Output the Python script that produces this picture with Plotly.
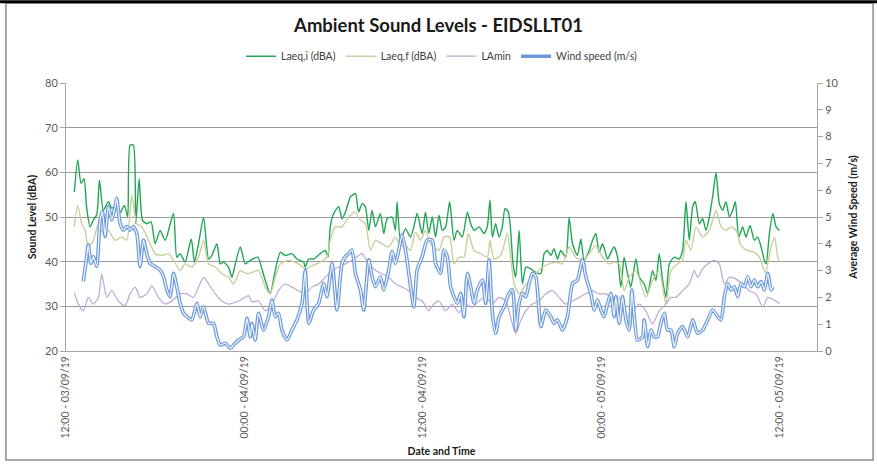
import pandas as pd
import plotly.graph_objects as go

# Hours after 12:00 03/09/19 and values
laeq_i_hours = [0.56,0.79,1.01,1.21,1.39,1.62,1.84,2.07,2.25,2.51,2.85,3.08,3.30,3.64,3.93,4.15,4.31,4.53,4.69,4.92,5.14,5.43,5.72,5.99,6.33,6.67,7.23,7.45,7.68,8.01,8.42,8.64,8.91,9.25,9.59,9.81,10.15,10.37,10.60,10.93,11.16,11.38,11.72,12.06,12.39,
                12.90,13.17,13.40,13.73,14.07,14.41,14.74,15.19,15.53,15.98,16.09,16.32,16.65,17.10,17.44,17.62,17.77,18.00,18.34,18.56,18.79,19.12,19.28,19.46,19.68,19.91,20.13,20.36,20.58,20.81,21.14,21.37,21.59,21.93,22.15,22.26,22.49,22.83,23.16,23.39,23.61,23.95,24.17,24.40,
                24.63,24.85,25.08,25.30,25.53,25.80,26.09,26.31,26.65,26.99,27.21,27.44,27.77,28.11,28.33,28.51,28.67,28.89,29.12,29.34,29.52,29.75,29.90,30.06,30.24,30.47,30.69,30.92,31.25,31.59,31.93,32.15,32.37,32.60,32.82,33.05,33.27,33.61,33.83,34.06,34.39,34.62,34.84,35.18,35.41,35.63,35.85,36.08,36.42,36.64,36.86,
                37.09,37.31,37.53,37.76,37.98,38.32,38.55,38.88,39.11,39.44,39.67,39.89,40.12,40.34,40.57,40.90,41.24,41.46,41.69,41.91,42.14,42.32,42.59,42.81,43.04,43.26,43.48,43.71,43.93,44.16,44.38,44.61,44.83,45.01,45.24,45.50,45.73,46.00,46.29,46.51,46.74,46.96,47.08,47.30,47.53,47.75,47.97]
laeq_i = [55.6,62.8,57.5,58.6,52.0,47.8,49.3,50.5,58.3,51.5,53.4,52.0,52.3,51.0,52.6,50.0,66.1,66.1,48.5,58.6,49.3,48.5,48.9,44.0,47.0,44.8,50.8,41.0,41.8,39.9,45.1,39.9,44.0,49.9,40.6,41.4,44.0,39.5,39.9,38.8,36.5,39.5,43.3,39.5,40.3,
          41.0,38.4,35.8,32.8,38.0,42.1,41.4,41.8,40.6,39.9,38.8,40.6,40.6,41.8,42.5,41.0,47.8,50.8,52.3,49.6,51.1,54.5,54.9,55.3,51.1,53.0,52.3,47.0,51.5,47.8,50.8,46.3,49.6,50.0,47.0,53.4,44.8,47.4,45.5,47.8,50.8,46.3,51.1,46.3,
          50.0,45.5,50.4,47.0,47.8,53.4,44.8,47.0,45.5,51.1,48.5,47.0,47.8,46.3,47.8,53.8,45.5,48.5,45.5,47.8,51.9,51.1,47.0,39.5,36.5,47.0,35.0,38.8,38.4,37.6,37.3,41.8,42.5,41.4,42.9,40.6,42.5,41.0,49.9,44.0,41.4,45.1,40.3,42.5,44.8,46.3,42.1,44.0,40.6,42.1,43.3,
          41.0,34.3,41.0,37.3,34.3,40.6,36.5,35.0,32.8,38.0,35.8,41.8,35.8,32.0,39.5,41.0,40.6,42.5,53.4,44.8,52.3,53.4,48.5,49.6,47.0,50.0,54.5,59.9,53.0,51.5,53.4,50.0,51.5,53.4,45.5,47.8,45.5,48.1,44.8,45.5,43.3,40.3,39.5,46.3,50.8,47.8,47.0]

laeq_f_hours = [0.56,0.79,1.06,1.28,1.50,1.84,2.18,2.51,2.85,3.30,3.75,4.09,4.42,4.76,5.10,5.55,5.99,6.44,6.89,7.23,7.68,8.01,8.46,8.91,9.25,9.59,10.04,10.48,10.93,11.27,11.72,12.17,
                12.50,12.95,13.40,13.73,14.07,14.41,14.97,15.64,16.09,16.54,17.10,17.55,17.77,18.11,18.56,19.01,19.46,19.80,20.13,20.47,20.81,21.25,21.70,22.15,22.49,22.83,23.16,23.50,23.84,24.17,24.51,
                25.08,25.41,25.80,26.09,26.43,26.76,27.05,27.44,27.88,28.33,28.51,28.78,29.23,29.68,29.90,30.13,30.47,30.80,31.14,31.59,32.04,32.49,32.94,33.38,33.83,34.28,34.73,35.18,35.63,36.08,36.53,36.86,
                37.20,37.53,37.87,38.32,38.66,38.99,39.44,39.89,40.34,40.68,41.13,41.46,41.69,42.02,42.36,42.81,43.26,43.71,44.05,44.38,44.72,45.06,45.39,45.84,46.29,46.63,47.03,47.41,47.64,47.86,47.97]
laeq_f = [47.8,52.6,48.5,47.0,43.3,44.8,48.5,46.3,47.0,44.8,45.5,44.8,54.9,48.5,47.8,44.8,41.8,41.4,41.8,40.3,38.0,39.5,38.8,41.0,44.8,39.5,38.8,37.3,36.5,35.0,38.0,37.3,
          37.6,38.0,34.3,32.8,36.5,39.5,40.3,39.5,38.4,39.1,39.9,41.0,44.8,47.8,47.8,50.0,51.1,49.3,48.5,42.5,44.8,44.0,43.3,45.5,43.6,43.6,42.5,46.6,44.8,47.0,44.0,
          42.5,45.5,45.5,39.5,41.0,41.0,46.3,42.5,41.8,41.0,44.8,40.6,41.4,46.3,41.0,35.0,32.8,34.3,35.8,37.3,38.8,39.5,39.9,39.5,43.3,41.0,40.3,41.8,43.6,41.0,39.5,39.9,
          39.5,33.5,36.5,38.0,35.0,32.0,35.8,38.0,30.5,38.0,39.5,40.3,44.8,42.5,47.8,45.5,47.0,51.5,47.8,47.0,47.8,47.0,43.6,42.5,42.1,41.0,37.6,43.3,45.5,41.0,39.9]

lamin_hours = [0.56,0.83,1.17,1.50,1.84,2.18,2.40,2.74,3.08,3.52,3.97,4.31,4.65,4.98,5.43,5.77,6.22,6.67,7.12,7.68,8.13,8.58,8.91,9.25,9.59,10.04,10.48,10.93,11.38,11.83,12.28,
               12.50,12.95,13.40,13.85,14.29,14.74,15.19,15.64,16.09,16.54,16.99,17.44,17.89,18.34,18.79,19.23,19.68,19.91,20.36,20.81,21.25,21.70,22.15,22.60,23.05,23.50,23.95,24.40,
               24.63,25.08,25.53,25.98,26.43,26.87,27.32,27.77,28.22,28.67,29.12,29.57,29.90,30.24,30.58,30.92,31.36,31.81,32.26,32.71,33.16,33.61,34.06,34.51,34.96,35.41,35.85,36.30,36.75,
               37.20,37.65,38.10,38.55,38.99,39.44,39.89,40.34,40.68,41.01,41.46,41.91,42.25,42.47,42.81,43.15,43.60,43.93,44.27,44.61,45.06,45.50,45.95,46.40,46.85,47.19,47.53,47.86,47.97]
lamin = [33.1,30.5,29.0,32.0,30.5,32.0,37.3,32.0,33.5,31.2,30.1,32.8,34.3,32.0,32.8,34.6,32.0,30.5,31.2,32.8,32.8,32.0,34.3,36.5,35.0,32.8,31.2,30.5,30.9,31.6,32.4,
         31.0,31.2,29.0,30.5,33.5,35.0,34.3,33.5,32.8,34.3,35.0,36.5,38.0,38.8,39.5,40.3,41.4,41.8,39.5,38.0,37.3,36.5,35.0,34.3,33.5,32.0,31.2,29.0,
         30.1,31.2,29.0,30.5,28.6,30.5,29.8,31.2,32.0,30.5,32.0,31.2,27.5,23.8,26.8,29.0,30.5,31.2,32.8,33.5,32.0,30.5,31.2,32.0,32.8,33.5,32.8,32.8,32.0,
         32.0,27.5,29.0,30.5,29.0,26.0,29.0,30.5,32.0,32.0,33.5,35.0,38.0,36.5,38.4,39.5,40.3,39.5,35.0,36.5,36.1,35.0,33.5,32.8,29.8,32.0,31.6,30.9,30.5]

wind_hours = [1.17,1.39,1.50,1.68,1.84,2.07,2.29,2.45,2.63,2.85,3.08,3.30,3.41,3.64,3.86,4.09,4.31,4.53,4.76,4.98,5.21,5.43,5.66,5.99,6.33,6.56,6.78,7.00,7.23,7.45,7.68,7.90,8.13,8.46,8.80,9.02,9.25,9.59,9.92,10.15,10.37,10.71,11.05,11.27,11.61,11.94,12.17,12.39,
              12.50,12.72,12.95,13.28,13.62,13.85,14.07,14.29,14.52,14.86,15.19,15.53,15.87,16.09,16.32,16.65,16.99,17.33,17.55,17.89,18.22,18.56,18.79,19.01,19.23,19.46,19.80,20.02,20.36,20.58,20.81,21.14,21.37,21.70,21.93,22.15,22.38,22.60,22.83,23.05,23.39,23.61,23.95,24.29,
              24.63,24.85,25.19,25.41,25.64,25.86,26.09,26.31,26.54,26.76,26.99,27.21,27.44,27.66,28.00,28.22,28.45,28.67,28.89,29.12,29.46,29.79,30.02,30.24,30.47,30.69,30.92,31.14,31.36,31.59,31.93,32.26,32.60,32.82,33.05,33.38,33.72,34.06,34.39,34.73,34.96,35.29,35.52,35.74,35.97,36.19,36.42,36.64,36.86,
              36.97,37.20,37.42,37.65,37.87,38.05,38.21,38.43,38.77,38.88,39.11,39.33,39.56,39.78,40.00,40.23,40.45,40.68,40.90,41.13,41.46,41.80,42.14,42.47,42.81,43.15,43.48,43.82,44.05,44.27,44.49,44.72,44.94,45.17,45.39,45.62,45.84,46.07,46.29,46.51,46.74,46.96,47.19,47.41,47.53]
wind = [2.59,3.52,3.96,3.27,3.52,3.15,4.89,5.20,4.27,5.39,4.89,5.39,5.70,4.76,4.51,4.64,4.51,4.64,4.39,3.15,4.14,3.64,3.27,3.15,3.02,2.77,2.28,2.03,2.90,2.40,1.78,1.41,1.28,1.16,1.78,1.28,1.65,1.03,1.03,0.53,0.22,0.29,0.10,0.22,0.41,0.53,1.22,0.53,
        1.03,0.41,1.41,0.78,1.28,1.90,1.28,1.41,0.78,0.41,0.78,1.16,1.78,3.02,1.03,1.53,1.78,2.52,2.03,3.27,1.53,3.27,3.52,3.64,3.77,2.90,2.28,1.53,3.40,2.77,2.40,2.77,2.28,3.02,3.71,3.27,3.77,4.33,3.77,2.90,1.65,3.02,3.52,4.14,
        4.14,3.27,2.90,3.77,3.52,2.40,2.03,1.78,2.15,1.28,2.90,2.40,1.78,2.28,2.65,1.78,3.40,1.41,0.66,1.28,1.65,2.15,2.28,0.78,1.78,2.15,2.03,2.52,2.90,2.77,0.91,1.53,1.28,1.03,1.16,0.78,1.28,2.52,2.65,3.40,2.77,2.15,1.53,1.90,1.53,1.28,1.78,2.15,1.28,
        2.03,1.03,2.03,1.16,0.78,2.28,1.28,0.41,0.53,1.16,0.16,0.78,0.53,0.53,1.03,1.41,0.78,0.78,0.16,0.66,0.91,0.53,1.16,0.66,0.78,1.16,1.53,1.28,1.16,2.03,2.52,2.28,2.40,2.03,2.52,2.40,2.77,2.40,2.65,2.40,2.59,2.28,2.90,2.28,2.40]

tick_hours = [0, 12, 24, 36, 48]
tick_labels = ["12:00 - 03/09/19", "00:00 - 04/09/19", "12:00 - 04/09/19",
               "00:00 - 05/09/19", "12:00 - 05/09/19"]

t0 = pd.Timestamp("2019-09-03 12:00")
def to_time(h):
    return t0 + pd.to_timedelta(h, unit="h")

FONT = "Lato, 'Open Sans', sans-serif"
fig = go.Figure()
fig.add_trace(go.Scatter(x=to_time(laeq_i_hours), y=laeq_i, name="Laeq,i (dBA)", mode="lines",
                         line=dict(color="#22a556", width=1.4, shape="spline", smoothing=0.6)))
fig.add_trace(go.Scatter(x=to_time(laeq_f_hours), y=laeq_f, name="Laeq,f (dBA)", mode="lines",
                         line=dict(color="#c8cf9d", width=1.4, shape="spline", smoothing=0.6)))
fig.add_trace(go.Scatter(x=to_time(lamin_hours), y=lamin, name="LAmin", mode="lines",
                         line=dict(color="#bba8cf", width=1.2, shape="spline", smoothing=0.6)))
fig.add_trace(go.Scatter(x=to_time(wind_hours), y=wind, name="Wind speed (m/s)", mode="lines", yaxis="y2",
                         line=dict(color="#6a98d9", width=3.6, shape="spline", smoothing=0.6)))
fig.add_trace(go.Scatter(x=to_time(wind_hours), y=wind, showlegend=False, mode="lines", yaxis="y2",
                         hoverinfo="skip",
                         line=dict(color="#eef4fc", width=1.3, shape="spline", smoothing=0.6)))

axis_font = dict(family=FONT, size=11, color="#595959")
fig.update_layout(
    width=877, height=464,
    margin=dict(l=66, r=60, t=83, b=113),
    paper_bgcolor="white", plot_bgcolor="white",
    title=dict(text="<b>Ambient Sound Levels - EIDSLLT01</b>", x=0.5, xanchor="center",
               y=0.945, yanchor="middle", font=dict(family=FONT, size=18.5, color="#1a1a1a")),
    legend=dict(orientation="h", x=0.5, xanchor="center", y=1.1, yanchor="middle",
                font=dict(family=FONT, size=10.5, color="#404040"), itemwidth=30,
                bgcolor="rgba(0,0,0,0)"),
    xaxis=dict(range=[to_time(0), to_time(50.5)], tickvals=[to_time(h) for h in tick_hours],
               ticktext=tick_labels, tickangle=-90, tickfont=dict(family=FONT, size=10.5, color="#595959"),
               showgrid=False, showline=True, linecolor="#a6a6a6", linewidth=1, ticks="", automargin=False,
               title=dict(text="<b>Date and Time</b>", font=dict(family=FONT, size=10.5, color="#1a1a1a"), standoff=10)),
    yaxis=dict(range=[20, 80], dtick=10, tickfont=axis_font, showgrid=True, gridcolor="#9a9a9a", gridwidth=1,
               showline=True, linecolor="#a6a6a6", ticks="outside", ticklen=5, tickcolor="#a6a6a6",
               zeroline=False, automargin=False,
               title=dict(text="<b>Sound Level (dBA)</b>", font=dict(family=FONT, size=10.5, color="#1a1a1a"), standoff=6)),
    yaxis2=dict(range=[0, 10], dtick=1, overlaying="y", side="right", tickfont=axis_font, showgrid=False,
                showline=True, linecolor="#a6a6a6", ticks="outside", ticklen=5, tickcolor="#a6a6a6",
                zeroline=False, automargin=False,
                title=dict(text="<b>Average Wind Speed (m/s)</b>", font=dict(family=FONT, size=10.5, color="#1a1a1a"), standoff=12)),
    shapes=[
        dict(type="rect", xref="paper", yref="paper", x0=-0.08, x1=1.0747, y0=-0.4067, y1=1.2985,
             line=dict(color="#8c8c8c", width=1.5), layer="below"),
        dict(type="line", xref="paper", yref="paper", x0=-0.088, x1=1.0813, y0=1.3035, y1=1.3035,
             line=dict(color="#000000", width=3)),
    ],
    showlegend=True,
)
fig.write_html("out.html", config={"displayModeBar": False},
               post_script="document.body.style.margin='0';document.body.style.padding='0';")
